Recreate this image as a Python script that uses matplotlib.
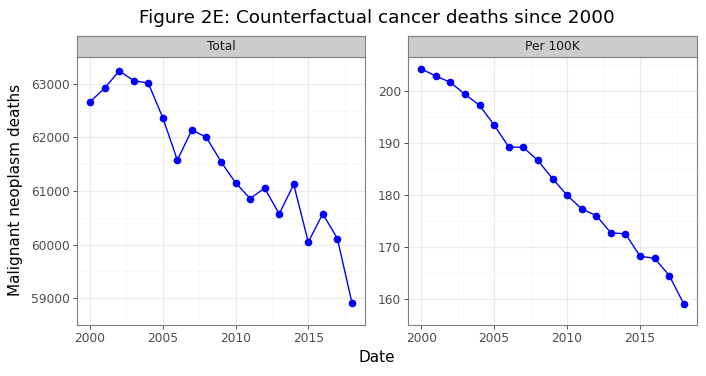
import matplotlib
matplotlib.use("Agg")
import matplotlib.pyplot as plt
import numpy as np

years = np.arange(2000, 2019)
total = [62665, 62918, 63241, 63059, 63012, 62365, 61576, 62141, 62000, 61547,
         61153, 60859, 61053, 60571, 61124, 60047, 60576, 60112, 58918]
per100k = [204.2, 202.8, 201.6, 199.3, 197.2, 193.4, 189.2, 189.1, 186.6, 183.1,
           179.9, 177.3, 176.0, 172.7, 172.5, 168.2, 167.8, 164.5, 159.0]
panels = ["Total", "Per 100K"]
xticks = [2000, 2005, 2010, 2015]
yticks_total = [59000, 60000, 61000, 62000, 63000]
yticks_rate = [160, 170, 180, 190, 200]

W, H = 706, 376
fig = plt.figure(figsize=(W / 100, H / 100), dpi=100)


def box(x0, y0, x1, y1):
    return [x0 / W, 1 - y1 / H, (x1 - x0) / W, (y1 - y0) / H]


def panel(x0, x1, values, yticks, name):
    ax = fig.add_axes(box(x0, 57, x1, 325))
    ax.plot(years, values, color="blue", lw=1, marker="o", ms=4.5, zorder=3)
    xr = years.max() - years.min()
    ax.set_xlim(years.min() - 0.05 * xr, years.max() + 0.05 * xr)
    lo, hi = min(values), max(values)
    ax.set_ylim(lo - 0.05 * (hi - lo), hi + 0.05 * (hi - lo))
    ax.set_xticks(xticks)
    ax.set_yticks(yticks)
    ax.set_xticks([2002.5, 2007.5, 2012.5, 2017.5], minor=True)
    step = yticks[1] - yticks[0]
    ax.set_yticks([t + step / 2 for t in [yticks[0] - step] + yticks], minor=True)
    ax.grid(which="major", color="#EBEBEB", lw=0.8)
    ax.grid(which="minor", color="#F5F5F5", lw=0.5)
    ax.set_axisbelow(True)
    ax.tick_params(which="major", labelsize=8.8, colors="#333333", labelcolor="#4D4D4D",
                   length=3, width=0.6, pad=2)
    ax.tick_params(which="minor", length=0)
    for s in ax.spines.values():
        s.set_color("#7F7F7F")
        s.set_linewidth(0.8)
    strip = fig.add_axes(box(x0, 36, x1, 57))
    strip.set_facecolor("#CCCCCC")
    strip.set_xticks([])
    strip.set_yticks([])
    for s in strip.spines.values():
        s.set_color("#7F7F7F")
        s.set_linewidth(0.8)
    strip.text(0.5, 0.5, name, ha="center", va="center", fontsize=8.8, color="#1A1A1A",
               transform=strip.transAxes)
    return ax


ax1 = panel(77, 365, total, yticks_total, panels[0])
ax2 = panel(408, 697, per100k, yticks_rate, panels[1])

fig.text(377 / W, 1 - 18 / H, "Figure 2E: Counterfactual cancer deaths since 2000",
         ha="center", va="center", fontsize=13.2)
fig.text(377 / W, 1 - 358 / H, "Date", ha="center", va="center", fontsize=11)
fig.text(16 / W, 1 - 190 / H, "Malignant neoplasm deaths", ha="center", va="center",
         rotation=90, fontsize=11)

fig.savefig("out.png", dpi=100)
